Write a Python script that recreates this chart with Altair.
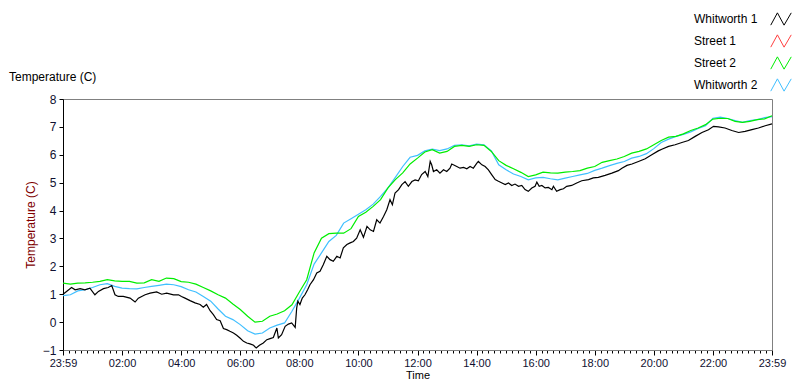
import altair as alt
import pandas as pd

SERIES = ["Whitworth 1", "Street 1", "Street 2", "Whitworth 2"]
COLORS = ["#000000", "#ff4040", "#00ee00", "#40bfff"]

# sample times (hours after midnight) for the smooth series, every 15 minutes
GRID_HOURS = [i * 0.25 for i in range(97)]

STREET2 = [
    1.40, 1.36, 1.40, 1.41, 1.43, 1.46, 1.52, 1.48, 1.46, 1.46, 1.40, 1.41, 1.52, 1.46, 1.58, 1.56,
    1.45, 1.43, 1.36, 1.24, 1.12, 0.98, 0.86, 0.65, 0.45, 0.21, 0.00, 0.03, 0.21, 0.29, 0.41, 0.62,
    1.08, 1.52, 2.48, 3.01, 3.17, 3.19, 3.19, 3.35, 3.79, 3.94, 4.15, 4.39, 4.81, 5.11, 5.35, 5.67,
    5.88, 6.10, 6.18, 6.06, 6.12, 6.30, 6.34, 6.30, 6.36, 6.34, 6.12, 5.79, 5.62, 5.50, 5.37, 5.22,
    5.28, 5.38, 5.35, 5.34, 5.38, 5.40, 5.43, 5.52, 5.58, 5.73, 5.79, 5.85, 5.94, 6.06, 6.12, 6.21,
    6.36, 6.51, 6.63, 6.66, 6.75, 6.87, 6.96, 7.08, 7.28, 7.31, 7.30, 7.20, 7.16, 7.20, 7.26, 7.29, 7.40,
]

WHITWORTH2 = [
    0.95, 0.98, 1.12, 1.16, 1.24, 1.34, 1.38, 1.28, 1.22, 1.20, 1.19, 1.24, 1.28, 1.32, 1.36, 1.34,
    1.27, 1.16, 1.08, 0.92, 0.75, 0.47, 0.21, 0.09, -0.09, -0.31, -0.43, -0.39, -0.21, -0.11, -0.03, 0.39,
    0.85, 1.34, 2.08, 2.48, 2.89, 3.11, 3.55, 3.71, 3.87, 4.03, 4.23, 4.51, 4.81, 5.19, 5.58, 5.91,
    5.98, 6.14, 6.20, 6.15, 6.21, 6.34, 6.36, 6.32, 6.38, 6.36, 6.14, 5.64, 5.46, 5.31, 5.22, 5.10,
    5.17, 5.19, 5.14, 5.10, 5.16, 5.22, 5.28, 5.33, 5.44, 5.52, 5.61, 5.69, 5.76, 5.88, 5.94, 6.04,
    6.22, 6.44, 6.56, 6.66, 6.73, 6.82, 6.94, 7.04, 7.31, 7.35, 7.30, 7.23, 7.16, 7.23, 7.26, 7.33, 7.37,
]

WHITWORTH1_HOURS = [
    0.00, 0.12, 0.29, 0.41, 0.58, 0.74, 0.91, 1.08, 1.20, 1.37, 1.53, 1.65, 1.76, 1.87, 2.04, 2.27,
    2.44, 2.55, 2.78, 2.95, 3.17, 3.34, 3.51, 3.74, 3.91, 4.01, 4.13, 4.30, 4.47, 4.64, 4.75, 4.86,
    4.98, 5.09, 5.20, 5.32, 5.43, 5.54, 5.65, 5.77, 5.88, 5.99, 6.11, 6.22, 6.33, 6.45, 6.54, 6.65,
    6.78, 6.90, 7.01, 7.12, 7.24, 7.29, 7.40, 7.52, 7.63, 7.74, 7.86, 7.91, 7.95, 8.02, 8.10, 8.19,
    8.28, 8.36, 8.48, 8.59, 8.70, 8.81, 8.93, 9.04, 9.15, 9.27, 9.38, 9.49, 9.61, 9.72, 9.83, 9.94,
    10.06, 10.17, 10.29, 10.40, 10.51, 10.62, 10.73, 10.85, 10.96, 11.07, 11.15, 11.24, 11.36, 11.47,
    11.58, 11.69, 11.81, 11.92, 12.03, 12.14, 12.26, 12.35, 12.43, 12.48, 12.54, 12.65, 12.76, 12.88,
    12.99, 13.10, 13.16, 13.33, 13.44, 13.56, 13.67, 13.78, 13.89, 14.01, 14.06, 14.18, 14.29, 14.40,
    14.51, 14.63, 14.74, 14.86, 14.97, 15.08, 15.19, 15.30, 15.42, 15.53, 15.64, 15.75, 15.87, 15.98,
    16.04, 16.12, 16.21, 16.32, 16.43, 16.55, 16.60, 16.71, 16.83, 16.94, 17.05, 17.22, 17.39, 17.56,
    17.79, 17.95, 18.12, 18.35, 18.58, 18.80, 18.92, 19.09, 19.26, 19.48, 19.71, 19.93, 20.15, 20.27,
    20.50, 20.72, 20.95, 21.17, 21.40, 21.63, 21.85, 22.02, 22.19, 22.41, 22.64, 22.87, 23.09, 23.32,
    23.54, 23.77, 24.00,
]

WHITWORTH1 = [
    1.00, 1.10, 1.24, 1.16, 1.20, 1.16, 1.22, 0.98, 1.10, 1.20, 1.24, 1.31, 0.98, 0.92, 0.92, 0.86,
    0.72, 0.86, 0.98, 1.04, 1.08, 1.00, 1.04, 0.98, 0.98, 0.92, 0.86, 0.77, 0.69, 0.63, 0.53, 0.63,
    0.41, 0.27, 0.09, 0.05, -0.23, -0.27, -0.33, -0.39, -0.47, -0.57, -0.69, -0.75, -0.78, -0.83, -0.93, -0.83,
    -0.75, -0.63, -0.59, -0.55, -0.21, -0.57, -0.45, -0.15, -0.07, -0.03, -0.19, 0.50, 0.75, 0.63, 0.86, 0.98,
    1.16, 1.34, 1.52, 1.76, 1.82, 2.06, 2.36, 2.24, 2.18, 2.36, 2.30, 2.66, 2.78, 2.84, 2.89, 3.01,
    3.31, 3.04, 3.43, 3.31, 3.25, 3.67, 3.55, 3.79, 4.03, 4.39, 4.21, 4.63, 4.75, 4.93,
    5.04, 4.87, 5.04, 5.10, 5.07, 5.29, 5.40, 5.22, 5.76, 5.64, 5.40, 5.46, 5.34, 5.46,
    5.40, 5.52, 5.67, 5.58, 5.52, 5.55, 5.50, 5.58, 5.52, 5.70, 5.76, 5.64, 5.58, 5.46,
    5.29, 5.11, 5.05, 4.99, 4.93, 4.99, 4.90, 4.95, 4.87, 4.90, 4.75, 4.69, 4.81, 4.87,
    5.02, 4.87, 4.90, 4.81, 4.83, 4.75, 4.87, 4.69, 4.75, 4.78, 4.87, 4.90, 4.99, 5.07,
    5.11, 5.17, 5.19, 5.26, 5.34, 5.43, 5.52, 5.62, 5.67, 5.76, 5.86, 6.00, 6.14, 6.20,
    6.30, 6.36, 6.44, 6.51, 6.66, 6.80, 6.90, 7.02, 7.00, 6.96, 6.87, 6.80, 6.84, 6.90,
    6.96, 7.04, 7.11,
]

Y_TICKS = [-1, 0, 1, 2, 3, 4, 5, 6, 7, 8]
X_TICKS = [round(i * 0.2, 1) for i in range(121)]

FONT = "Liberation Sans"

df_w2 = pd.DataFrame({"hours": GRID_HOURS, "temp": WHITWORTH2, "series": "Whitworth 2"})
df_s2 = pd.DataFrame({"hours": GRID_HOURS, "temp": STREET2, "series": "Street 2"})
df_w1 = pd.DataFrame({"hours": WHITWORTH1_HOURS, "temp": WHITWORTH1, "series": "Whitworth 1"})

major_test = "abs(datum.value / 2 - round(datum.value / 2)) < 0.01"
label_expr = (
    f"({major_test}) ? ((datum.value == 0 || datum.value == 24) ? '23:59' : "
    "((round(datum.value) < 10 ? '0' : '') + round(datum.value) + ':00')) : ''"
)

x_enc = alt.X(
    "hours:Q",
    scale=alt.Scale(domain=[0, 24], nice=False, zero=False),
    axis=alt.Axis(
        values=X_TICKS,
        labelExpr=label_expr,
        labelOverlap=False,
        labelFlush=False,
        tickSize={"condition": {"test": major_test, "value": 5}, "value": 3},
        tickColor="#000000",
        domainColor="#808080",
        grid=False,
        title="Time",
        titleFont=FONT,
        titleFontSize=11,
        titleFontWeight="normal",
        titleColor="#000000",
        titlePadding=1,
        labelFont=FONT,
        labelFontSize=11,
        labelColor="#101030",
        labelPadding=2,
    ),
)

y_enc = alt.Y(
    "temp:Q",
    scale=alt.Scale(domain=[-1, 8], nice=False, zero=False),
    axis=alt.Axis(
        values=Y_TICKS,
        tickSize=4,
        tickColor="#000000",
        domainColor="#000000",
        grid=False,
        title="Temperature (C)",
        titleFont=FONT,
        titleFontSize=12,
        titleFontWeight="normal",
        titleColor="#800000",
        titlePadding=5,
        labelFont=FONT,
        labelFontSize=12,
        labelColor="#101030",
        labelPadding=3,
    ),
)

color_scale = alt.Scale(domain=SERIES, range=COLORS)

legend = alt.Legend(
    orient="none",
    legendX=629,
    legendY=-91,
    title=None,
    symbolType="M-1,0.6L-0.35,-0.6L0.3,0.6L1,-0.6",
    symbolSize=420,
    symbolStrokeWidth=1,
    symbolOffset=78,
    labelOffset={"expr": "-98"},
    labelFont=FONT,
    labelFontSize=12,
    labelColor="#000000",
    rowPadding=2,
)

def layer(df, with_legend):
    return alt.Chart(df).mark_line(strokeWidth=1.2, interpolate="linear").encode(
        x=x_enc,
        y=y_enc,
        color=alt.Color("series:N", scale=color_scale, legend=legend if with_legend else None),
    )

chart = alt.layer(
    layer(df_w2, True),
    layer(df_s2, False),
    layer(df_w1, False),
).properties(
    width=709,
    height=251,
    autosize=alt.AutoSizeParams(type="none"),
    padding={"left": 55, "top": 91, "right": 20, "bottom": 34},
    title=alt.TitleParams(
        text="Temperature (C)",
        anchor="start",
        frame="group",
        dx=-54,
        dy=89,
        offset=13,
        font=FONT,
        fontSize=12,
        fontWeight="normal",
        color="#000000",
    ),
    background="#ffffff",
).configure_view(stroke="#808080", strokeWidth=1)

chart.save("out.html", embed_options={"renderer": "svg", "actions": False})
